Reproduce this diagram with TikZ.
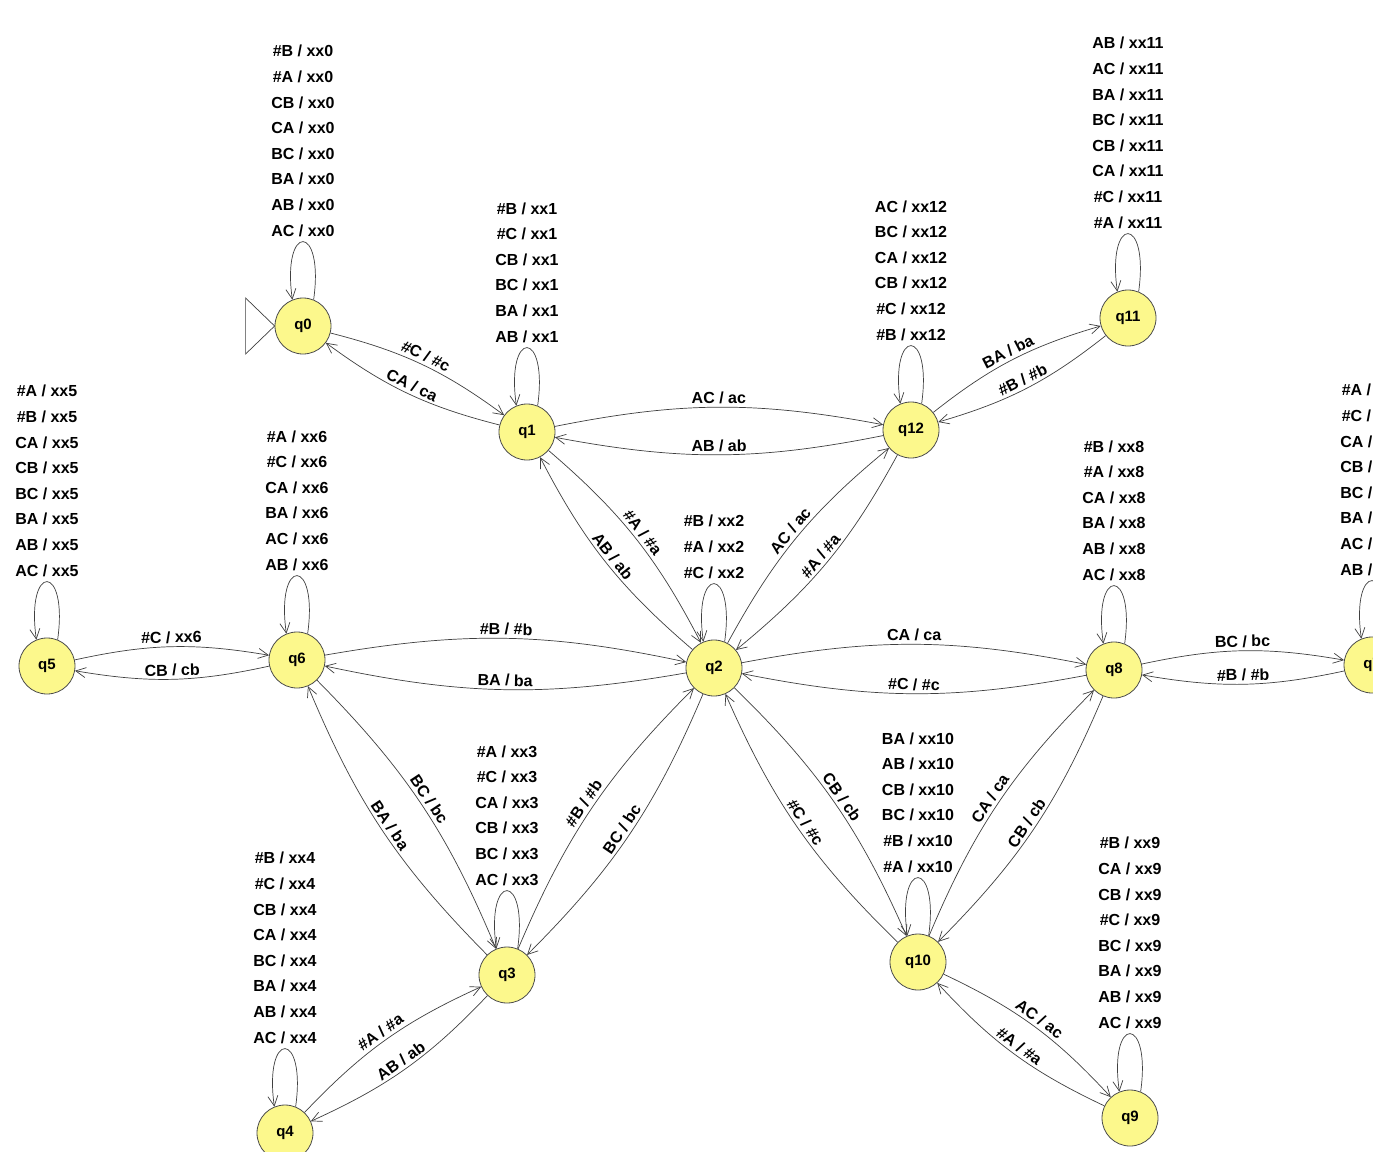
\documentclass[tikz,border=0pt]{standalone}
\usepackage{fontspec}
\setmainfont{Liberation Sans}
\usetikzlibrary{arrows.meta,calc}
\definecolor{stfill}{RGB}{252,248,140}
\begin{document}
\begin{tikzpicture}[x=1pt,y=1pt,
  state/.style={circle,draw=black!70,line width=0.8pt,fill=stfill,minimum size=56pt,inner sep=0pt,font=\bfseries\fontsize{15}{15}\selectfont},
  tr/.style={draw=black!75,line width=0.7pt,-{Straight Barb[length=10pt,width=10pt]}},
  pair/.style={tr,bend left=11},
  elbl/.style={font=\bfseries\fontsize{16}{16}\selectfont,inner sep=3pt,sloped,auto},
  looplbl/.style={font=\bfseries\fontsize{16}{25.6}\selectfont,align=center,anchor=south,inner sep=0pt,yshift=5pt}
]
\useasboundingbox[fill=white] (0,-1151) rectangle (1373,0);

% states
\node[state] (q0)  at (303,-326)  {q0};
\node[state] (q1)  at (527,-432)  {q1};
\node[state] (q12) at (911,-430)  {q12};
\node[state] (q11) at (1128,-318) {q11};
\node[state] (q5)  at (47,-666)   {q5};
\node[state] (q6)  at (297,-660)  {q6};
\node[state] (q2)  at (714,-668)  {q2};
\node[state] (q8)  at (1114,-670) {q8};
\node[state] (q7)  at (1372,-665) {q7};
\node[state] (q3)  at (507,-975)  {q3};
\node[state] (q4)  at (285,-1133) {q4};
\node[state] (q10) at (918,-962)  {q10};
\node[state] (q9)  at (1130,-1118){q9};

% initial marker
\draw[black!75,line width=0.7pt] (q0.west) -- ++(-29,28) -- ++(0,-56) -- cycle;

% self loops
\newcommand{\selfloop}[3]{%
  \draw[tr] (#1.68) .. controls +(82:78) and +(98:78) .. (#1.112)
    node[pos=0.5,looplbl] (#2) {#3};}
\selfloop{q0}{l0}{\#B / xx0\\\#A / xx0\\CB / xx0\\CA / xx0\\BC / xx0\\BA / xx0\\AB / xx0\\AC / xx0}
\selfloop{q1}{l1}{\#B / xx1\\\#C / xx1\\CB / xx1\\BC / xx1\\BA / xx1\\AB / xx1}
\selfloop{q12}{l12}{AC / xx12\\BC / xx12\\CA / xx12\\CB / xx12\\\#C / xx12\\\#B / xx12}
\selfloop{q11}{l11}{AB / xx11\\AC / xx11\\BA / xx11\\BC / xx11\\CB / xx11\\CA / xx11\\\#C / xx11\\\#A / xx11}
\selfloop{q5}{l5}{\#A / xx5\\\#B / xx5\\CA / xx5\\CB / xx5\\BC / xx5\\BA / xx5\\AB / xx5\\AC / xx5}
\selfloop{q6}{l6}{\#A / xx6\\\#C / xx6\\CA / xx6\\BA / xx6\\AC / xx6\\AB / xx6}
\selfloop{q2}{l2}{\#B / xx2\\\#A / xx2\\\#C / xx2}
\selfloop{q8}{l8}{\#B / xx8\\\#A / xx8\\CA / xx8\\BA / xx8\\AB / xx8\\AC / xx8}
\selfloop{q7}{l7}{\#A / xx7\\\#C / xx7\\CA / xx7\\CB / xx7\\BC / xx7\\BA / xx7\\AC / xx7\\AB / xx7}
\selfloop{q3}{l3}{\#A / xx3\\\#C / xx3\\CA / xx3\\CB / xx3\\BC / xx3\\AC / xx3}
\selfloop{q4}{l4}{\#B / xx4\\\#C / xx4\\CB / xx4\\CA / xx4\\BC / xx4\\BA / xx4\\AB / xx4\\AC / xx4}
\selfloop{q10}{l10}{BA / xx10\\AB / xx10\\CB / xx10\\BC / xx10\\\#B / xx10\\\#A / xx10}
\selfloop{q9}{l9}{\#B / xx9\\CA / xx9\\CB / xx9\\\#C / xx9\\BC / xx9\\BA / xx9\\AB / xx9\\AC / xx9}

% transitions between states
\draw[pair] (q0) to node[elbl] (e01) {\#C / \#c} (q1);
\draw[pair] (q1) to node[elbl] (e10) {CA / ca} (q0);
\draw[pair] (q1) to node[elbl] (e112) {AC / ac} (q12);
\draw[pair] (q12) to node[elbl] (e121) {AB / ab} (q1);
\draw[pair] (q12) to node[elbl] (e1211) {BA / ba} (q11);
\draw[pair] (q11) to node[elbl] (e1112) {\#B / \#b} (q12);
\draw[pair] (q1) to node[elbl] (e12) {\#A / \#a} (q2);
\draw[pair] (q2) to node[elbl] (e21) {AB / ab} (q1);
\draw[pair] (q2) to node[elbl] (e212) {AC / ac} (q12);
\draw[pair] (q12) to node[elbl] (e122) {\#A / \#a} (q2);
\draw[pair] (q5) to node[elbl] (e56) {\#C / xx6} (q6);
\draw[pair] (q6) to node[elbl] (e65) {CB / cb} (q5);
\draw[pair] (q6) to node[elbl] (e62) {\#B / \#b} (q2);
\draw[pair] (q2) to node[elbl] (e26) {BA / ba} (q6);
\draw[pair] (q2) to node[elbl] (e28) {CA / ca} (q8);
\draw[pair] (q8) to node[elbl] (e82) {\#C / \#c} (q2);
\draw[pair] (q8) to node[elbl] (e87) {BC / bc} (q7);
\draw[pair] (q7) to node[elbl] (e78) {\#B / \#b} (q8);
\draw[pair] (q6) to node[elbl] (e63) {BC / bc} (q3);
\draw[pair] (q3) to node[elbl] (e36) {BA / ba} (q6);
\draw[pair] (q3) to node[elbl] (e32) {\#B / \#b} (q2);
\draw[pair] (q2) to node[elbl] (e23) {BC / bc} (q3);
\draw[pair] (q4) to node[elbl] (e43) {\#A / \#a} (q3);
\draw[pair] (q3) to node[elbl] (e34) {AB / ab} (q4);
\draw[pair] (q2) to node[elbl] (e210) {CB / cb} (q10);
\draw[pair] (q10) to node[elbl] (e102) {\#C / \#c} (q2);
\draw[pair] (q10) to node[elbl] (e108) {CA / ca} (q8);
\draw[pair] (q8) to node[elbl] (e810) {CB / cb} (q10);
\draw[pair] (q10) to node[elbl] (e109) {AC / ac} (q9);
\draw[pair] (q9) to node[elbl] (e910) {\#A / \#a} (q10);
\end{tikzpicture}
\end{document}
